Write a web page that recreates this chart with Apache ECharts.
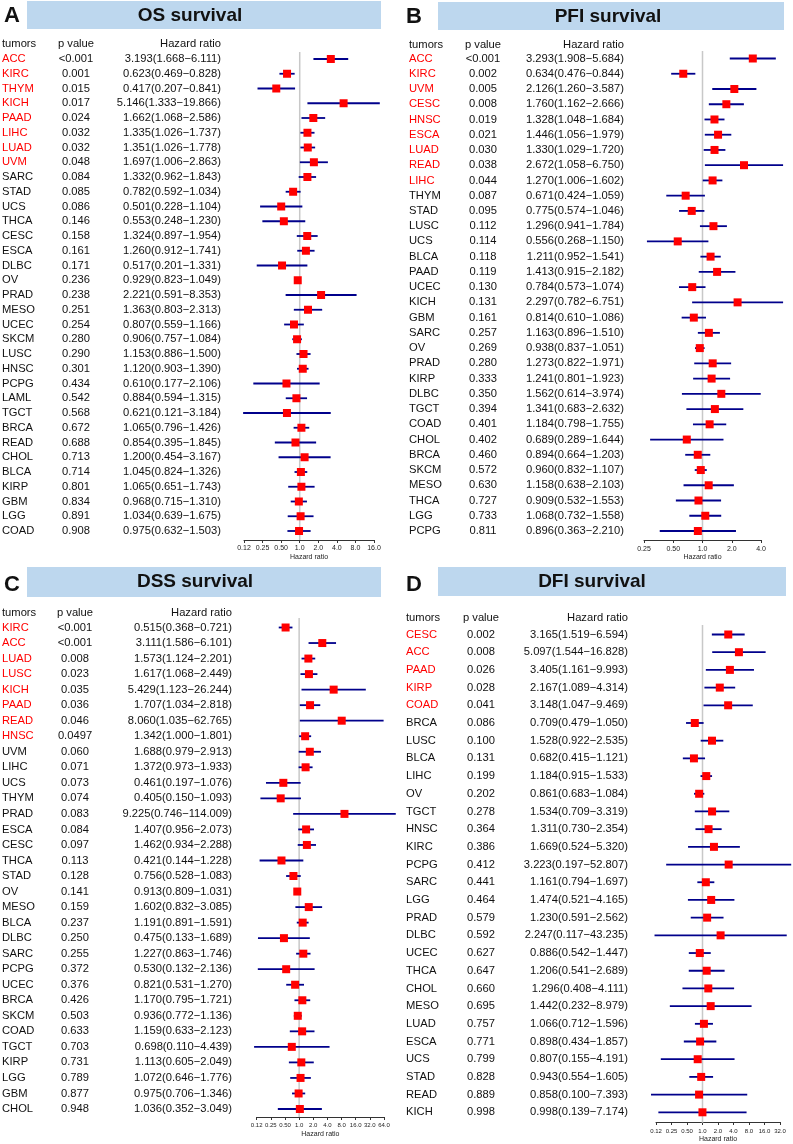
<!DOCTYPE html>
<html>
<head>
<meta charset="utf-8">
<script src="https://cdn.jsdelivr.net/npm/echarts@6/dist/echarts.min.js"></script>
<style>
html,body{margin:0;padding:0;background:#fff;}
#chart{width:793px;height:1144px;}
</style>
</head>
<body>
<div id="chart"></div>
<script>
// ---------------- DATA ----------------
// A: OS survival
const osTumors = ['ACC','KIRC','THYM','KICH','PAAD','LIHC','LUAD','UVM','SARC','STAD','UCS','THCA','CESC','ESCA','DLBC','OV','PRAD','MESO','UCEC','SKCM','LUSC','HNSC','PCPG','LAML','TGCT','BRCA','READ','CHOL','BLCA','KIRP','GBM','LGG','COAD'];
const osP = ['<0.001','0.001','0.015','0.017','0.024','0.032','0.032','0.048','0.084','0.085','0.086','0.146','0.158','0.161','0.171','0.236','0.238','0.251','0.254','0.280','0.290','0.301','0.434','0.542','0.568','0.672','0.688','0.713','0.714','0.801','0.834','0.891','0.908'];
const osHR = [3.193,0.623,0.417,5.146,1.662,1.335,1.351,1.697,1.332,0.782,0.501,0.553,1.324,1.260,0.517,0.929,2.221,1.363,0.807,0.906,1.153,1.120,0.610,0.884,0.621,1.065,0.854,1.200,1.045,1.065,0.968,1.034,0.975];
const osLow = [1.668,0.469,0.207,1.333,1.068,1.026,1.026,1.006,0.962,0.592,0.228,0.248,0.897,0.912,0.201,0.823,0.591,0.803,0.559,0.757,0.886,0.903,0.177,0.594,0.121,0.796,0.395,0.454,0.824,0.651,0.715,0.639,0.632];
const osHigh = [6.111,0.828,0.841,19.866,2.586,1.737,1.778,2.863,1.843,1.034,1.104,1.230,1.954,1.741,1.331,1.049,8.353,2.313,1.166,1.084,1.500,1.390,2.106,1.315,3.184,1.426,1.845,3.167,1.326,1.743,1.310,1.675,1.503];
const osTicks = ['0.12','0.25','0.50','1.0','2.0','4.0','8.0','16.0'];

// B: PFI survival
const pfiTumors = ['ACC','KIRC','UVM','CESC','HNSC','ESCA','LUAD','READ','LIHC','THYM','STAD','LUSC','UCS','BLCA','PAAD','UCEC','KICH','GBM','SARC','OV','PRAD','KIRP','DLBC','TGCT','COAD','CHOL','BRCA','SKCM','MESO','THCA','LGG','PCPG'];
const pfiP = ['<0.001','0.002','0.005','0.008','0.019','0.021','0.030','0.038','0.044','0.087','0.095','0.112','0.114','0.118','0.119','0.130','0.131','0.161','0.257','0.269','0.280','0.333','0.350','0.394','0.401','0.402','0.460','0.572','0.630','0.727','0.733','0.811'];
const pfiHR = [3.293,0.634,2.126,1.760,1.328,1.446,1.330,2.672,1.270,0.671,0.775,1.296,0.556,1.211,1.413,0.784,2.297,0.814,1.163,0.938,1.273,1.241,1.562,1.341,1.184,0.689,0.894,0.960,1.158,0.909,1.068,0.896];
const pfiLow = [1.908,0.476,1.260,1.162,1.048,1.056,1.029,1.058,1.006,0.424,0.574,0.941,0.268,0.952,0.915,0.573,0.782,0.610,0.896,0.837,0.822,0.801,0.614,0.683,0.798,0.289,0.664,0.832,0.638,0.532,0.732,0.363];
const pfiHigh = [5.684,0.844,3.587,2.666,1.684,1.979,1.720,6.750,1.602,1.059,1.046,1.784,1.150,1.541,2.182,1.074,6.751,1.086,1.510,1.051,1.971,1.923,3.974,2.632,1.755,1.644,1.203,1.107,2.103,1.553,1.558,2.210];
const pfiTicks = ['0.25','0.50','1.0','2.0','4.0'];

// C: DSS survival
const dssTumors = ['KIRC','ACC','LUAD','LUSC','KICH','PAAD','READ','HNSC','UVM','LIHC','UCS','THYM','PRAD','ESCA','CESC','THCA','STAD','OV','MESO','BLCA','DLBC','SARC','PCPG','UCEC','BRCA','SKCM','COAD','TGCT','KIRP','LGG','GBM','CHOL'];
const dssP = ['<0.001','<0.001','0.008','0.023','0.035','0.036','0.046','0.0497','0.060','0.071','0.073','0.074','0.083','0.084','0.097','0.113','0.128','0.141','0.159','0.237','0.250','0.255','0.372','0.376','0.426','0.503','0.633','0.703','0.731','0.789','0.877','0.948'];
const dssHR = [0.515,3.111,1.573,1.617,5.429,1.707,8.060,1.342,1.688,1.372,0.461,0.405,9.225,1.407,1.462,0.421,0.756,0.913,1.602,1.191,0.475,1.227,0.530,0.821,1.170,0.936,1.159,0.698,1.113,1.072,0.975,1.036];
const dssLow = [0.368,1.586,1.124,1.068,1.123,1.034,1.035,1.000,0.979,0.973,0.197,0.150,0.746,0.956,0.934,0.144,0.528,0.809,0.832,0.891,0.133,0.863,0.132,0.531,0.795,0.772,0.633,0.110,0.605,0.646,0.706,0.352];
const dssHigh = [0.721,6.101,2.201,2.449,26.244,2.818,62.765,1.801,2.913,1.933,1.076,1.093,114.009,2.073,2.288,1.228,1.083,1.031,3.085,1.591,1.689,1.746,2.136,1.270,1.721,1.136,2.123,4.439,2.049,1.776,1.346,3.049];
const dssTicks = ['0.12','0.25','0.50','1.0','2.0','4.0','8.0','16.0','32.0','64.0'];

// D: DFI survival
const dfiTumors = ['CESC','ACC','PAAD','KIRP','COAD','BRCA','LUSC','BLCA','LIHC','OV','TGCT','HNSC','KIRC','PCPG','SARC','LGG','PRAD','DLBC','UCEC','THCA','CHOL','MESO','LUAD','ESCA','UCS','STAD','READ','KICH'];
const dfiP = ['0.002','0.008','0.026','0.028','0.041','0.086','0.100','0.131','0.199','0.202','0.278','0.364','0.386','0.412','0.441','0.464','0.579','0.592','0.627','0.647','0.660','0.695','0.757','0.771','0.799','0.828','0.889','0.998'];
const dfiHR = [3.165,5.097,3.405,2.167,3.148,0.709,1.528,0.682,1.184,0.861,1.534,1.311,1.669,3.223,1.161,1.474,1.230,2.247,0.886,1.206,1.296,1.442,1.066,0.898,0.807,0.943,0.858,0.998];
const dfiLow = [1.519,1.544,1.161,1.089,1.047,0.479,0.922,0.415,0.915,0.683,0.709,0.730,0.524,0.197,0.794,0.521,0.591,0.117,0.542,0.541,0.408,0.232,0.712,0.434,0.155,0.554,0.100,0.139];
const dfiHigh = [6.594,16.828,9.993,4.314,9.469,1.050,2.535,1.121,1.533,1.084,3.319,2.354,5.320,52.807,1.697,4.165,2.562,43.235,1.447,2.689,4.111,8.979,1.596,1.857,4.191,1.605,7.393,7.174];
const dfiTicks = ['0.12','0.25','0.50','1.0','2.0','4.0','8.0','16.0','32.0'];

// ---------------- LAYOUT ----------------
const FONT = '"Liberation Sans", Arial, Helvetica, sans-serif';
const panels = [
  {letter:'A', title:'OS survival', tumors:osTumors, p:osP, hr:osHR, lo:osLow, hi:osHigh, ticks:osTicks,
   letterX:4, letterY:16, barX:27, barY:1, barW:354, barH:28, titleX:190, titleY:16,
   colT:2, colP:76, colH:221, headY:44, first:59, last:531, gl:244, gr:374, min:0.125, max:16,
   axisY:540, margin:5, nameGap:13.5, tickFont:7, refTop:52},
  {letter:'B', title:'PFI survival', tumors:pfiTumors, p:pfiP, hr:pfiHR, lo:pfiLow, hi:pfiHigh, ticks:pfiTicks,
   letterX:406, letterY:17, barX:438, barY:2, barW:346, barH:28, titleX:608, titleY:17,
   colT:409, colP:483, colH:624, headY:45, first:58.5, last:531, gl:644, gr:761, min:0.25, max:4,
   axisY:540, margin:6, nameGap:14, tickFont:7, refTop:51},
  {letter:'C', title:'DSS survival', tumors:dssTumors, p:dssP, hr:dssHR, lo:dssLow, hi:dssHigh, ticks:dssTicks,
   letterX:4, letterY:585, barX:27, barY:567, barW:354, barH:30, titleX:195, titleY:582,
   colT:2, colP:75, colH:232, headY:613, first:627.5, last:1109, gl:256.7, gr:384, min:0.125, max:64,
   axisY:1117, margin:5.5, nameGap:13.5, tickFont:6, refTop:618},
  {letter:'D', title:'DFI survival', tumors:dfiTumors, p:dfiP, hr:dfiHR, lo:dfiLow, hi:dfiHigh, ticks:dfiTicks,
   letterX:406, letterY:585, barX:438, barY:567, barW:348, barH:29, titleX:592, titleY:582,
   colT:406, colP:481, colH:628, headY:618, first:634.5, last:1113, gl:656, gr:780, min:0.125, max:32,
   axisY:1122.7, margin:6.5, nameGap:14, tickFont:6, refTop:625}
];

function txt(x, y, text, opts) {
  opts = opts || {};
  return {
    type:'text', x:x, y:y, silent:true,
    style:{text:text, fill:opts.fill||'#111', font:opts.font||('11.2px '+FONT),
      align:opts.align||'left', textAlign:opts.align||'left',
      verticalAlign:'middle', textVerticalAlign:'middle'}
  };
}

const grids = [], xAxes = [], yAxes = [], series = [], graphics = [];
panels.forEach((P, k) => {
  const n = P.tumors.length;
  grids.push({left:P.gl, width:P.gr - P.gl, top:P.first, height:P.last - P.first, containLabel:false});
  xAxes.push({
    gridIndex:k, type:'log', logBase:2, min:P.min, max:P.max, interval:1,
    position:'bottom', offset:P.axisY - P.last,
    name:'Hazard ratio', nameLocation:'middle', nameGap:P.nameGap,
    nameTextStyle:{fontSize:7, color:'#222', fontFamily:FONT},
    axisLine:{show:true, onZero:false, lineStyle:{color:'#333', width:1}},
    axisTick:{show:true, length:3, lineStyle:{color:'#333', width:1}},
    splitLine:{show:false},
    axisLabel:{fontSize:P.tickFont, color:'#222', fontFamily:FONT, margin:P.margin, hideOverlap:false,
      showMinLabel:true, showMaxLabel:true,
      formatter:(v) => { const i = Math.round(Math.log2(v / P.min)); return P.ticks[i] !== undefined ? P.ticks[i] : ''; }}
  });
  yAxes.push({gridIndex:k, type:'value', min:0, max:n - 1, inverse:true, show:false});

  // reference line at HR = 1
  series.push({
    type:'custom', xAxisIndex:k, yAxisIndex:k, silent:true, clip:false, z:1,
    data:[[1, 0]],
    renderItem:(params, api) => {
      const c = api.coord([1, 0]);
      return {type:'line', shape:{x1:c[0], y1:P.refTop, x2:c[0], y2:P.axisY}, style:{stroke:'#c8c8c8', lineWidth:1.5}};
    }
  });
  // CI lines + boxes
  series.push({
    type:'custom', xAxisIndex:k, yAxisIndex:k, silent:true, clip:false, z:3,
    encode:{x:[0,1,2], y:3},
    data:P.tumors.map((t, i) => [P.hr[i], P.lo[i], P.hi[i], i]),
    renderItem:(params, api) => {
      const row = api.value(3);
      const c = api.coord([api.value(0), row]);
      const l = api.coord([api.value(1), row]);
      const h = api.coord([api.value(2), row]);
      const s = 8;
      return {type:'group', children:[
        {type:'line', shape:{x1:l[0], y1:c[1], x2:h[0], y2:c[1]}, style:{stroke:'#00008b', lineWidth:1.8}},
        {type:'rect', shape:{x:c[0] - s/2, y:c[1] - s/2, width:s, height:s}, style:{fill:'#ff0000'}}
      ]};
    }
  });
  // table text
  series.push({
    type:'custom', xAxisIndex:k, yAxisIndex:k, silent:true, clip:false, z:2,
    encode:{x:0, y:1},
    data:P.tumors.map((t, i) => [1, i]),
    renderItem:(params, api) => {
      const i = params.dataIndex;
      const y = api.coord([1, api.value(1)])[1];
      const pv = P.p[i];
      const sig = pv.charAt(0) === '<' || parseFloat(pv) < 0.05;
      const hrText = P.hr[i].toFixed(3) + '(' + P.lo[i].toFixed(3) + '\u2212' + P.hi[i].toFixed(3) + ')';
      return {type:'group', children:[
        txt(P.colT, y, P.tumors[i], {fill: sig ? '#ff0000' : '#111'}),
        txt(P.colP, y, pv, {align:'center'}),
        txt(P.colH, y, hrText, {align:'right'})
      ]};
    }
  });

  // decorations: letter, title bar, header
  graphics.push({type:'rect', shape:{x:P.barX, y:P.barY, width:P.barW, height:P.barH}, style:{fill:'#bdd7ee'}, silent:true});
  graphics.push(txt(P.titleX, P.titleY, P.title, {align:'center', font:'bold 19px ' + FONT}));
  graphics.push(txt(P.letterX, P.letterY, P.letter, {font:'bold 22px ' + FONT}));
  graphics.push(txt(P.colT, P.headY, 'tumors'));
  graphics.push(txt(P.colP, P.headY, 'p value', {align:'center'}));
  graphics.push(txt(P.colH, P.headY, 'Hazard ratio', {align:'right'}));
});

const chart = echarts.init(document.getElementById('chart'), null, {renderer:'canvas'});
chart.setOption({
  animation:false,
  backgroundColor:'#ffffff',
  grid:grids, xAxis:xAxes, yAxis:yAxes, series:series,
  graphic:{elements:graphics}
});
</script>
</body>
</html>
